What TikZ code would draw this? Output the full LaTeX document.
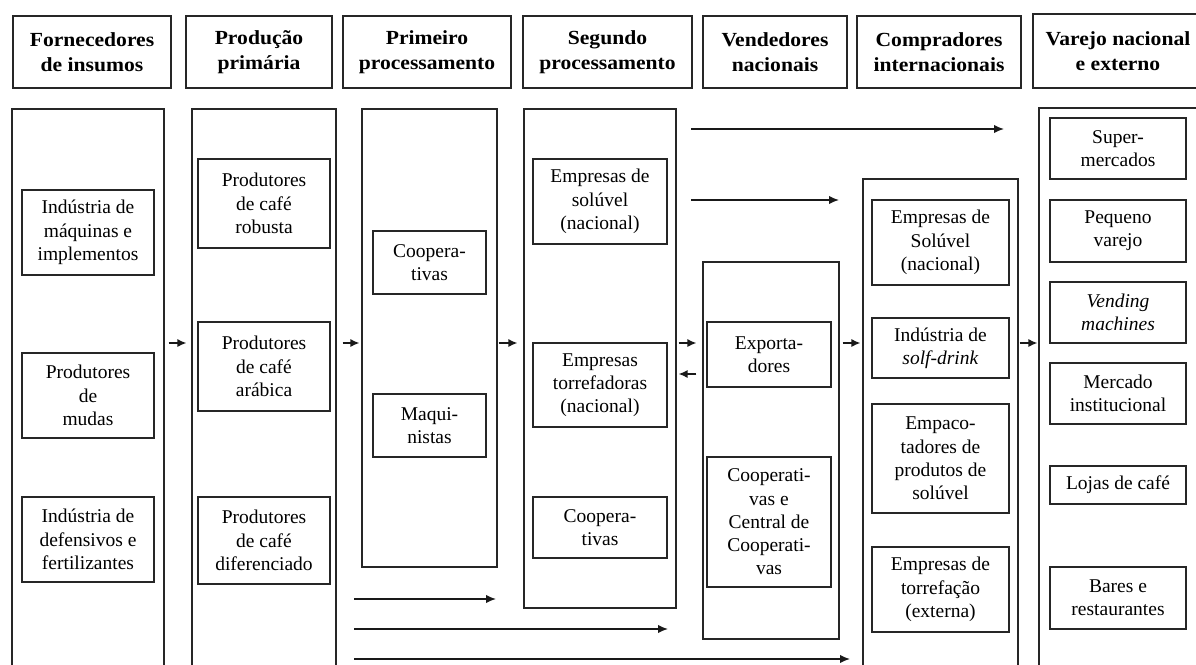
\documentclass[tikz,border=0pt]{standalone}
\usepackage{fontspec}
\setmainfont{Liberation Serif}
\newfontfamily\hdfont{Liberation Serif}[FakeStretch=1.08]
\usetikzlibrary{arrows.meta}
\newcommand\mkbox[7]{\node[#1, minimum width={#5-#3}, minimum height={#6-#4}] (#2) at ({(#3+#5)/2},{(#4+#6)/2}) {#7};}
\begin{document}
\begin{tikzpicture}[x=1pt,y=-1pt,
  frame/.style={draw=black!85, line width=1.2pt, inner sep=0pt},
  bx/.style={frame, align=center, font=\fontsize{19.5}{23.3}\selectfont},
  hd/.style={frame, align=center, font=\hdfont\bfseries\fontsize{20}{25}\selectfont},
  arr/.style={line width=1.3pt, draw=black!90, -{Latex[length=9pt,width=8pt]}},
  larr/.style={line width=1.6pt, draw=black!90, -{Latex[length=10pt,width=8.5pt]}}]
\useasboundingbox (0,0) rectangle (1196,664);
\clip (0,0) rectangle (1196,664);
% headers
\mkbox{hd}{h1}{13}{16}{171}{88}{Fornecedores\\de insumos}
\mkbox{hd}{h2}{186}{16}{332}{88}{Produção\\primária}
\mkbox{hd}{h3}{343}{16}{511}{88}{Primeiro\\processamento}
\mkbox{hd}{h4}{523}{16}{692}{88}{Segundo\\processamento}
\mkbox{hd}{h5}{703}{16}{847}{88}{Vendedores\\nacionais}
\mkbox{hd}{h6}{857}{16}{1021}{88}{Compradores\\internacionais}
\mkbox{hd}{h7}{1033}{14}{1203}{88}{Varejo nacional\\e externo}
% columns
\mkbox{frame}{c1}{12}{109}{164}{720}{}
\mkbox{frame}{c2}{192}{109}{336}{720}{}
\mkbox{frame}{c3}{362}{109}{497}{567}{}
\mkbox{frame}{c4}{524}{109}{676}{608}{}
\mkbox{frame}{c5}{703}{262}{839}{639}{}
\mkbox{frame}{c6}{863}{179}{1018}{720}{}
\mkbox{frame}{c7}{1039}{108}{1220}{720}{}
% column 1
\mkbox{bx}{b11}{22}{190}{154}{275}{Indústria de\\máquinas e\\implementos}
\mkbox{bx}{b12}{22}{353}{154}{438}{Produtores\\de\\mudas}
\mkbox{bx}{b13}{22}{497}{154}{582}{Indústria de\\defensivos e\\fertilizantes}
% column 2
\mkbox{bx}{b21}{198}{159}{330}{248}{Produtores\\de café\\robusta}
\mkbox{bx}{b22}{198}{322}{330}{411}{Produtores\\de café\\arábica}
\mkbox{bx}{b23}{198}{497}{330}{584}{Produtores\\de café\\diferenciado}
% column 3
\mkbox{bx}{b31}{373}{231}{486}{294}{Coopera-\\tivas}
\mkbox{bx}{b32}{373}{394}{486}{457}{Maqui-\\nistas}
% column 4
\mkbox{bx}{b41}{533}{159}{667}{244}{Empresas de\\solúvel\\(nacional)}
\mkbox{bx}{b42}{533}{343}{667}{427}{Empresas\\torrefadoras\\(nacional)}
\mkbox{bx}{b43}{533}{497}{667}{558}{Coopera-\\tivas}
% column 5
\mkbox{bx}{b51}{707}{322}{831}{387}{Exporta-\\dores}
\mkbox{bx}{b52}{707}{457}{831}{587}{Cooperati-\\vas e\\Central de\\Cooperati-\\vas}
% column 6
\mkbox{bx}{b61}{872}{200}{1009}{285}{Empresas de\\Solúvel\\(nacional)}
\mkbox{bx}{b62}{872}{318}{1009}{378}{Indústria de\\\textit{solf-drink}}
\mkbox{bx}{b63}{872}{404}{1009}{513}{Empaco-\\tadores de\\produtos de\\solúvel}
\mkbox{bx}{b64}{872}{547}{1009}{632}{Empresas de\\torrefação\\(externa)}
% column 7
\mkbox{bx}{b71}{1050}{118}{1186}{179}{Super-\\mercados}
\mkbox{bx}{b72}{1050}{200}{1186}{262}{Pequeno\\varejo}
\mkbox{bx}{b73}{1050}{282}{1186}{343}{\textit{Vending}\\\textit{machines}}
\mkbox{bx}{b74}{1050}{363}{1186}{424}{Mercado\\institucional}
\mkbox{bx}{b75}{1050}{466}{1186}{504}{Lojas de café}
\mkbox{bx}{b76}{1050}{567}{1186}{629}{Bares e\\restaurantes}
% short arrows between columns
\coordinate (ym) at (0,343);
\coordinate (yb) at (0,374);
\draw[arr] ([xshift=4pt]c1.east |- ym) -- ([xshift=-5pt]c2.west |- ym);
\draw[arr] ([xshift=6pt]c2.east |- ym) -- ([xshift=-2pt]c3.west |- ym);
\draw[arr] ([xshift=1pt]c3.east |- ym) -- ([xshift=-6pt]c4.west |- ym);
\draw[arr] ([xshift=2pt]c4.east |- ym) -- ([xshift=-6pt]c5.west |- ym);
\draw[arr] ([xshift=-6pt]c5.west |- yb) -- ([xshift=2pt]c4.east |- yb);
\draw[arr] ([xshift=3pt]c5.east |- ym) -- ([xshift=-2pt]c6.west |- ym);
\draw[arr] ([xshift=1pt]c6.east |- ym) -- ([xshift=-1pt]c7.west |- ym);
% long arrows
\coordinate (t1s) at (691,129);
\coordinate (t1e) at (1004,129);
\coordinate (t2s) at (691,200);
\coordinate (t2e) at (839,200);
\coordinate (l1s) at (354,599);
\coordinate (l1e) at (496,599);
\coordinate (l2s) at (354,629);
\coordinate (l2e) at (668,629);
\coordinate (l3s) at (354,659);
\coordinate (l3e) at (850,659);
\draw[larr] (t1s) -- (t1e);
\draw[larr] (t2s) -- (t2e);
\draw[larr] (l1s) -- (l1e);
\draw[larr] (l2s) -- (l2e);
\draw[larr] (l3s) -- (l3e);
\end{tikzpicture}
\end{document}
